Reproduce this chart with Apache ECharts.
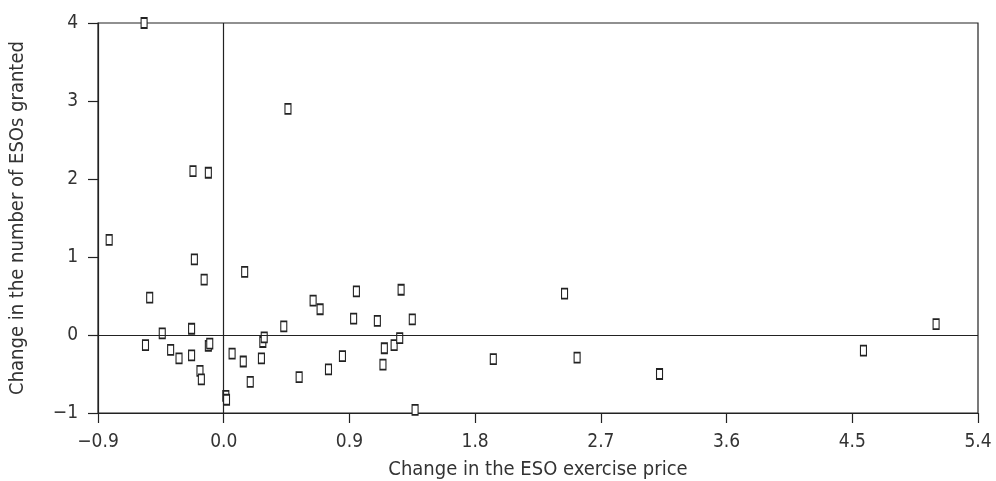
<!DOCTYPE html>
<html>
<head>
<meta charset="utf-8">
<script src="https://cdn.jsdelivr.net/npm/echarts@6/dist/echarts.min.js"></script>
<style>
    html, body { margin: 0; padding: 0; background: #fff; }
    #graph { width: 996px; height: 481px; }
</style>
</head>
<body>
<div id="graph"></div>
<script>
// change in ESO exercise price (x) and change in number of ESOs granted (y)
var priceChange = [
    -0.57, 0.46, -0.22, -0.11, -0.82, 0.15, -0.21, -0.14, -0.53, 0.64,
    0.69, 0.95, 1.27, 0.43, 0.93, 1.10, 1.35, 2.44, 5.10, -0.23,
    -0.44, -0.56, -0.38, -0.32, -0.23, -0.17, -0.16, -0.11, -0.10, 0.015,
    0.02, 0.06, 0.14, 0.19, 0.28, 0.29, 0.27, 0.54, 0.75, 0.85,
    1.15, 1.14, 1.22, 1.26, 1.37, 1.93, 2.53, 3.12, 4.58
];
var grantChange = [
    4.00, 2.90, 2.10, 2.08, 1.22, 0.81, 0.97, 0.71, 0.48, 0.44,
    0.33, 0.56, 0.58, 0.11, 0.21, 0.18, 0.20, 0.53, 0.14, 0.08,
    0.02, -0.13, -0.19, -0.30, -0.26, -0.46, -0.57, -0.14, -0.11, -0.78,
    -0.83, -0.24, -0.34, -0.60, -0.09, -0.03, -0.30, -0.54, -0.44, -0.27,
    -0.17, -0.38, -0.13, -0.04, -0.96, -0.31, -0.29, -0.50, -0.20
];

var points = [];
for (var i = 0; i < priceChange.length; i++) {
    points.push([priceChange[i], grantChange[i]]);
}

var fontName = "'Liberation Sans Narrow', 'DejaVu Sans Condensed', sans-serif";
var lineColor = '#222';
var textColor = '#333';

function minus(s) {
    return String(s).replace('-', '\u2212');
}

var chart = echarts.init(document.getElementById('graph'));

chart.setOption({
    animation: false,
    grid: {
        left: 98,
        right: 18,
        top: 23,
        bottom: 68,
        outerBoundsMode: 'none',
        show: true,
        borderColor: lineColor,
        borderWidth: 1.2
    },
    xAxis: {
        type: 'value',
        min: -0.9,
        max: 5.4,
        interval: 0.9,
        name: 'Change in the ESO exercise price',
        nameLocation: 'middle',
        nameGap: 47,
        nameTextStyle: { fontFamily: fontName, fontSize: 20, color: textColor },
        axisLine: { show: true, onZero: false, lineStyle: { color: lineColor, width: 1.2 } },
        axisTick: { show: true, length: 10, lineStyle: { color: lineColor, width: 1.2 } },
        axisLabel: {
            margin: 20,
            fontFamily: fontName,
            fontSize: 19,
            color: textColor,
            formatter: function (v) { return minus(v.toFixed(1)); }
        },
        splitLine: { show: false }
    },
    yAxis: {
        type: 'value',
        min: -1,
        max: 4,
        interval: 1,
        name: 'Change in the number of ESOs granted',
        nameLocation: 'middle',
        nameGap: 70,
        nameTextStyle: { fontFamily: fontName, fontSize: 20, color: textColor },
        axisLine: { show: true, onZero: false, lineStyle: { color: lineColor, width: 1.2 } },
        axisTick: { show: true, length: 10, lineStyle: { color: lineColor, width: 1.2 } },
        axisLabel: {
            margin: 20,
            fontFamily: fontName,
            fontSize: 19,
            color: textColor,
            formatter: function (v) { return minus(v); }
        },
        splitLine: { show: false }
    },
    series: [{
        type: 'scatter',
        data: points,
        symbol: 'rect',
        symbolSize: [6, 10],
        itemStyle: {
            color: '#fff',
            borderColor: lineColor,
            borderWidth: 1.4,
            opacity: 1
        },
        markLine: {
            silent: true,
            symbol: 'none',
            label: { show: false },
            lineStyle: { color: lineColor, width: 1.2, type: 'solid' },
            data: [{ xAxis: 0 }, { yAxis: 0 }]
        }
    }]
});
</script>
</body>
</html>
